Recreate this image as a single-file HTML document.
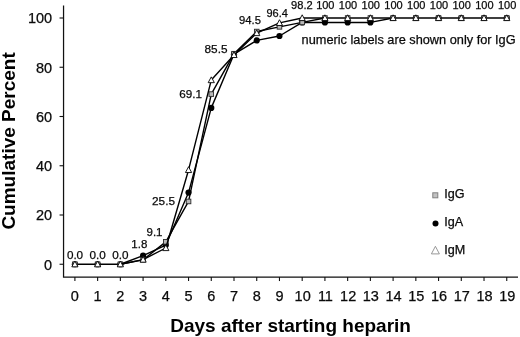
<!DOCTYPE html>
<html><head><meta charset="utf-8"><title>Cumulative Percent</title>
<style>
html,body{margin:0;padding:0;background:#fff;}
body{width:520px;height:337px;overflow:hidden;}
svg{display:block;}
text{font-family:"Liberation Sans",sans-serif;fill:#0a0a0a;stroke:#0a0a0a;stroke-width:0.25px;}
.tk{font-size:14.5px;}
.dl{font-size:11.2px;}
.ti{font-size:19px;font-weight:bold;fill:#000;stroke:none;}
.an{font-size:12.75px;}
.lg{font-size:12.6px;}
</style></head><body>
<svg width="520" height="337" viewBox="0 0 520 337">
<rect x="0" y="0" width="520" height="337" fill="#ffffff"/>

<g stroke="#111" stroke-width="1.25" fill="none">
<path d="M63.55 5.5 V277.05 H518"/>
<path d="M59.55 264.25 H63.55" stroke-width="1.1"/>
<path d="M59.55 215.00 H63.55" stroke-width="1.1"/>
<path d="M59.55 165.75 H63.55" stroke-width="1.1"/>
<path d="M59.55 116.50 H63.55" stroke-width="1.1"/>
<path d="M59.55 67.25 H63.55" stroke-width="1.1"/>
<path d="M59.55 18.00 H63.55" stroke-width="1.1"/>
<path d="M74.90 277.05 V281.05" stroke-width="1.1"/>
<path d="M97.63 277.05 V281.05" stroke-width="1.1"/>
<path d="M120.36 277.05 V281.05" stroke-width="1.1"/>
<path d="M143.09 277.05 V281.05" stroke-width="1.1"/>
<path d="M165.82 277.05 V281.05" stroke-width="1.1"/>
<path d="M188.55 277.05 V281.05" stroke-width="1.1"/>
<path d="M211.27 277.05 V281.05" stroke-width="1.1"/>
<path d="M234.00 277.05 V281.05" stroke-width="1.1"/>
<path d="M256.73 277.05 V281.05" stroke-width="1.1"/>
<path d="M279.46 277.05 V281.05" stroke-width="1.1"/>
<path d="M302.19 277.05 V281.05" stroke-width="1.1"/>
<path d="M324.92 277.05 V281.05" stroke-width="1.1"/>
<path d="M347.65 277.05 V281.05" stroke-width="1.1"/>
<path d="M370.38 277.05 V281.05" stroke-width="1.1"/>
<path d="M393.11 277.05 V281.05" stroke-width="1.1"/>
<path d="M415.84 277.05 V281.05" stroke-width="1.1"/>
<path d="M438.56 277.05 V281.05" stroke-width="1.1"/>
<path d="M461.29 277.05 V281.05" stroke-width="1.1"/>
<path d="M484.02 277.05 V281.05" stroke-width="1.1"/>
<path d="M506.75 277.05 V281.05" stroke-width="1.1"/>
</g>
<text class="tk" x="52.1" y="269.50" text-anchor="end">0</text>
<text class="tk" x="52.1" y="220.25" text-anchor="end">20</text>
<text class="tk" x="52.1" y="171.00" text-anchor="end">40</text>
<text class="tk" x="52.1" y="121.75" text-anchor="end">60</text>
<text class="tk" x="52.1" y="72.50" text-anchor="end">80</text>
<text class="tk" x="52.1" y="23.25" text-anchor="end">100</text>
<text class="tk" x="74.90" y="301.3" text-anchor="middle">0</text>
<text class="tk" x="97.63" y="301.3" text-anchor="middle">1</text>
<text class="tk" x="120.36" y="301.3" text-anchor="middle">2</text>
<text class="tk" x="143.09" y="301.3" text-anchor="middle">3</text>
<text class="tk" x="165.82" y="301.3" text-anchor="middle">4</text>
<text class="tk" x="188.55" y="301.3" text-anchor="middle">5</text>
<text class="tk" x="211.27" y="301.3" text-anchor="middle">6</text>
<text class="tk" x="234.00" y="301.3" text-anchor="middle">7</text>
<text class="tk" x="256.73" y="301.3" text-anchor="middle">8</text>
<text class="tk" x="279.46" y="301.3" text-anchor="middle">9</text>
<text class="tk" x="302.69" y="301.3" text-anchor="middle">10</text>
<text class="tk" x="325.42" y="301.3" text-anchor="middle">11</text>
<text class="tk" x="348.15" y="301.3" text-anchor="middle">12</text>
<text class="tk" x="370.88" y="301.3" text-anchor="middle">13</text>
<text class="tk" x="393.61" y="301.3" text-anchor="middle">14</text>
<text class="tk" x="416.34" y="301.3" text-anchor="middle">15</text>
<text class="tk" x="439.06" y="301.3" text-anchor="middle">16</text>
<text class="tk" x="461.79" y="301.3" text-anchor="middle">17</text>
<text class="tk" x="484.52" y="301.3" text-anchor="middle">18</text>
<text class="tk" x="507.25" y="301.3" text-anchor="middle">19</text>
<text class="ti" x="290.6" y="331.6" text-anchor="middle">Days after starting heparin</text>
<text class="ti" transform="translate(15.1 140.9) rotate(-90)" text-anchor="middle">Cumulative Percent</text>
<text class="an" x="301.6" y="44.3">numeric labels are shown only for IgG</text>
<path d="M74.90 264.25 L97.63 264.25 L120.36 264.25 L143.09 255.63 L165.82 245.04 L188.55 192.59 L211.27 107.88 L234.00 54.20 L256.73 40.41 L279.46 35.98 L302.19 22.43 L324.92 22.43 L347.65 22.43 L370.38 22.43 L393.11 18.00 L415.84 18.00 L438.56 18.00 L461.29 18.00 L484.02 18.00 L506.75 18.00" fill="none" stroke="#000" stroke-width="1.4" stroke-linejoin="round" stroke-linecap="round"/>
<circle cx="74.90" cy="264.25" r="3.1" fill="#000"/>
<circle cx="97.63" cy="264.25" r="3.1" fill="#000"/>
<circle cx="120.36" cy="264.25" r="3.1" fill="#000"/>
<circle cx="143.09" cy="255.63" r="3.1" fill="#000"/>
<circle cx="165.82" cy="245.04" r="3.1" fill="#000"/>
<circle cx="188.55" cy="192.59" r="3.1" fill="#000"/>
<circle cx="211.27" cy="107.88" r="3.1" fill="#000"/>
<circle cx="234.00" cy="54.20" r="3.1" fill="#000"/>
<circle cx="256.73" cy="40.41" r="3.1" fill="#000"/>
<circle cx="279.46" cy="35.98" r="3.1" fill="#000"/>
<circle cx="302.19" cy="22.43" r="3.1" fill="#000"/>
<circle cx="324.92" cy="22.43" r="3.1" fill="#000"/>
<circle cx="347.65" cy="22.43" r="3.1" fill="#000"/>
<circle cx="370.38" cy="22.43" r="3.1" fill="#000"/>
<circle cx="393.11" cy="18.00" r="3.1" fill="#000"/>
<circle cx="415.84" cy="18.00" r="3.1" fill="#000"/>
<circle cx="438.56" cy="18.00" r="3.1" fill="#000"/>
<circle cx="461.29" cy="18.00" r="3.1" fill="#000"/>
<circle cx="484.02" cy="18.00" r="3.1" fill="#000"/>
<circle cx="506.75" cy="18.00" r="3.1" fill="#000"/>
<path d="M120.36 264.25 L143.09 259.82 L165.82 241.84 L188.55 201.46 L211.27 94.09 L234.00 53.71 L256.73 31.54 L279.46 26.86 L302.19 22.43 L324.92 18.00 L347.65 18.00 L370.38 18.00 L393.11 18.00" fill="none" stroke="#000" stroke-width="1.4" stroke-linejoin="round" stroke-linecap="round"/>
<rect x="72.60" y="261.95" width="4.6" height="4.6" fill="#b8b8b8" stroke="#2a2a2a" stroke-width="0.9"/>
<rect x="95.33" y="261.95" width="4.6" height="4.6" fill="#b8b8b8" stroke="#2a2a2a" stroke-width="0.9"/>
<rect x="118.06" y="261.95" width="4.6" height="4.6" fill="#b8b8b8" stroke="#2a2a2a" stroke-width="0.9"/>
<rect x="140.79" y="257.52" width="4.6" height="4.6" fill="#b8b8b8" stroke="#2a2a2a" stroke-width="0.9"/>
<rect x="163.52" y="239.54" width="4.6" height="4.6" fill="#b8b8b8" stroke="#2a2a2a" stroke-width="0.9"/>
<rect x="186.25" y="199.16" width="4.6" height="4.6" fill="#b8b8b8" stroke="#2a2a2a" stroke-width="0.9"/>
<rect x="208.97" y="91.79" width="4.6" height="4.6" fill="#b8b8b8" stroke="#2a2a2a" stroke-width="0.9"/>
<rect x="231.70" y="51.41" width="4.6" height="4.6" fill="#b8b8b8" stroke="#2a2a2a" stroke-width="0.9"/>
<rect x="254.43" y="29.24" width="4.6" height="4.6" fill="#b8b8b8" stroke="#2a2a2a" stroke-width="0.9"/>
<rect x="277.16" y="24.56" width="4.6" height="4.6" fill="#b8b8b8" stroke="#2a2a2a" stroke-width="0.9"/>
<rect x="299.89" y="20.13" width="4.6" height="4.6" fill="#b8b8b8" stroke="#2a2a2a" stroke-width="0.9"/>
<rect x="322.62" y="15.70" width="4.6" height="4.6" fill="#b8b8b8" stroke="#2a2a2a" stroke-width="0.9"/>
<rect x="345.35" y="15.70" width="4.6" height="4.6" fill="#b8b8b8" stroke="#2a2a2a" stroke-width="0.9"/>
<rect x="368.08" y="15.70" width="4.6" height="4.6" fill="#b8b8b8" stroke="#2a2a2a" stroke-width="0.9"/>
<rect x="390.81" y="15.70" width="4.6" height="4.6" fill="#b8b8b8" stroke="#2a2a2a" stroke-width="0.9"/>
<rect x="413.54" y="15.70" width="4.6" height="4.6" fill="#b8b8b8" stroke="#2a2a2a" stroke-width="0.9"/>
<rect x="436.26" y="15.70" width="4.6" height="4.6" fill="#b8b8b8" stroke="#2a2a2a" stroke-width="0.9"/>
<rect x="458.99" y="15.70" width="4.6" height="4.6" fill="#b8b8b8" stroke="#2a2a2a" stroke-width="0.9"/>
<rect x="481.72" y="15.70" width="4.6" height="4.6" fill="#b8b8b8" stroke="#2a2a2a" stroke-width="0.9"/>
<rect x="504.45" y="15.70" width="4.6" height="4.6" fill="#b8b8b8" stroke="#2a2a2a" stroke-width="0.9"/>
<path d="M120.36 264.25 L143.09 259.57 L165.82 248.00 L188.55 169.94 L211.27 80.06 L234.00 54.94 L256.73 33.02 L279.46 22.93 L302.19 18.00 L324.92 18.00" fill="none" stroke="#000" stroke-width="1.4" stroke-linejoin="round" stroke-linecap="round"/>
<path d="M74.90 261.05 L78.00 266.85 H71.80 Z" fill="#fff" stroke="#000" stroke-width="0.9" stroke-linejoin="miter"/>
<path d="M97.63 261.05 L100.73 266.85 H94.53 Z" fill="#fff" stroke="#000" stroke-width="0.9" stroke-linejoin="miter"/>
<path d="M120.36 261.05 L123.46 266.85 H117.26 Z" fill="#fff" stroke="#000" stroke-width="0.9" stroke-linejoin="miter"/>
<path d="M143.09 256.37 L146.19 262.17 H139.99 Z" fill="#fff" stroke="#000" stroke-width="0.9" stroke-linejoin="miter"/>
<path d="M165.82 244.80 L168.92 250.60 H162.72 Z" fill="#fff" stroke="#000" stroke-width="0.9" stroke-linejoin="miter"/>
<path d="M188.55 166.74 L191.65 172.54 H185.45 Z" fill="#fff" stroke="#000" stroke-width="0.9" stroke-linejoin="miter"/>
<path d="M211.27 76.86 L214.37 82.66 H208.17 Z" fill="#fff" stroke="#000" stroke-width="0.9" stroke-linejoin="miter"/>
<path d="M234.00 51.74 L237.10 57.54 H230.90 Z" fill="#fff" stroke="#000" stroke-width="0.9" stroke-linejoin="miter"/>
<path d="M256.73 29.82 L259.83 35.62 H253.63 Z" fill="#fff" stroke="#000" stroke-width="0.9" stroke-linejoin="miter"/>
<path d="M279.46 19.73 L282.56 25.53 H276.36 Z" fill="#fff" stroke="#000" stroke-width="0.9" stroke-linejoin="miter"/>
<path d="M302.19 14.80 L305.29 20.60 H299.09 Z" fill="#fff" stroke="#000" stroke-width="0.9" stroke-linejoin="miter"/>
<path d="M324.92 14.80 L328.02 20.60 H321.82 Z" fill="#fff" stroke="#000" stroke-width="0.9" stroke-linejoin="miter"/>
<path d="M347.65 14.80 L350.75 20.60 H344.55 Z" fill="#fff" stroke="#000" stroke-width="0.9" stroke-linejoin="miter"/>
<path d="M370.38 14.80 L373.48 20.60 H367.28 Z" fill="#fff" stroke="#000" stroke-width="0.9" stroke-linejoin="miter"/>
<path d="M393.11 14.80 L396.21 20.60 H390.01 Z" fill="#fff" stroke="#000" stroke-width="0.9" stroke-linejoin="miter"/>
<path d="M415.84 14.80 L418.94 20.60 H412.74 Z" fill="#fff" stroke="#000" stroke-width="0.9" stroke-linejoin="miter"/>
<path d="M438.56 14.80 L441.66 20.60 H435.46 Z" fill="#fff" stroke="#000" stroke-width="0.9" stroke-linejoin="miter"/>
<path d="M461.29 14.80 L464.39 20.60 H458.19 Z" fill="#fff" stroke="#000" stroke-width="0.9" stroke-linejoin="miter"/>
<path d="M484.02 14.80 L487.12 20.60 H480.92 Z" fill="#fff" stroke="#000" stroke-width="0.9" stroke-linejoin="miter"/>
<path d="M506.75 14.80 L509.85 20.60 H503.65 Z" fill="#fff" stroke="#000" stroke-width="0.9" stroke-linejoin="miter"/>
<text class="dl" style="font-size:11.7px" x="75.00" y="258.50" text-anchor="middle">0.0</text>
<text class="dl" style="font-size:11.7px" x="97.73" y="258.50" text-anchor="middle">0.0</text>
<text class="dl" style="font-size:11.7px" x="120.46" y="258.50" text-anchor="middle">0.0</text>
<text class="dl" style="font-size:11.5px" x="139.30" y="248.20" text-anchor="middle">1.8</text>
<text class="dl" style="font-size:11.5px" x="154.50" y="235.80" text-anchor="middle">9.1</text>
<text class="dl" style="font-size:11.8px" x="163.50" y="205.00" text-anchor="middle">25.5</text>
<text class="dl" style="font-size:11.7px" x="190.60" y="98.30" text-anchor="middle">69.1</text>
<text class="dl" style="font-size:11.8px" x="216.00" y="53.20" text-anchor="middle">85.5</text>
<text class="dl" style="font-size:11.25px" x="250.00" y="24.10" text-anchor="middle">94.5</text>
<text class="dl" style="font-size:11.0px" x="277.20" y="16.60" text-anchor="middle">96.4</text>
<text class="dl" style="font-size:11.1px" x="301.90" y="9.40" text-anchor="middle">98.2</text>
<text class="dl" style="font-size:11px" x="325.32" y="9.30" text-anchor="middle">100</text>
<text class="dl" style="font-size:11px" x="348.05" y="9.30" text-anchor="middle">100</text>
<text class="dl" style="font-size:11px" x="370.78" y="9.30" text-anchor="middle">100</text>
<text class="dl" style="font-size:11px" x="393.51" y="9.30" text-anchor="middle">100</text>
<text class="dl" style="font-size:11px" x="416.24" y="9.30" text-anchor="middle">100</text>
<text class="dl" style="font-size:11px" x="438.96" y="9.30" text-anchor="middle">100</text>
<text class="dl" style="font-size:11px" x="461.69" y="9.30" text-anchor="middle">100</text>
<text class="dl" style="font-size:11px" x="484.42" y="9.30" text-anchor="middle">100</text>
<text class="dl" style="font-size:11px" x="507.15" y="9.30" text-anchor="middle">100</text>
<rect x="432.8" y="192.8" width="5" height="5" fill="#c2c2c2" stroke="#808080" stroke-width="1"/>
<circle cx="435.5" cy="223.4" r="3" fill="#000"/>
<path d="M435.4 246.3 L439.4 253.9 H431.4 Z" fill="#fff" stroke="#8c8c8c" stroke-width="0.9"/>
<text class="lg" x="444.3" y="198.0">IgG</text>
<text class="lg" x="444.3" y="226.1">IgA</text>
<text class="lg" x="444.3" y="253.6">IgM</text>
</svg></body></html>
